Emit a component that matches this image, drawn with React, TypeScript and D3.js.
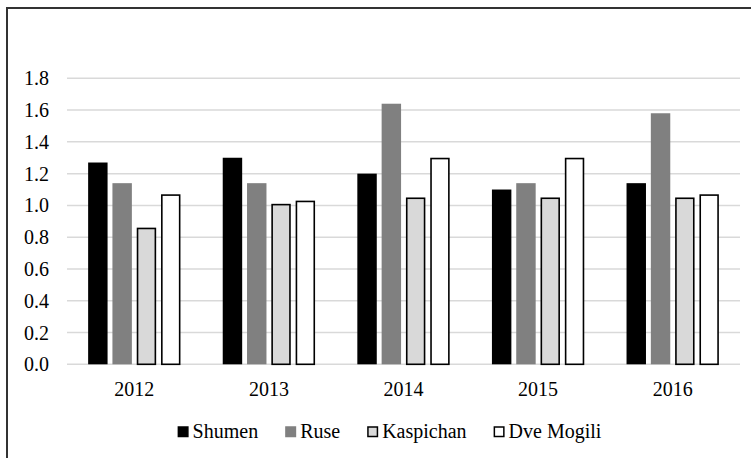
import React, { useEffect, useRef } from 'react';
import * as d3 from 'd3';

const years = ['2012', '2013', '2014', '2015', '2016'];
const seriesNames = ['Shumen', 'Ruse', 'Kaspichan', 'Dve Mogili'];
const shumen = [1.27, 1.3, 1.2, 1.1, 1.14];
const ruse = [1.14, 1.14, 1.64, 1.14, 1.58];
const kaspichan = [0.86, 1.01, 1.05, 1.05, 1.05];
const dveMogili = [1.07, 1.03, 1.3, 1.3, 1.07];
const yTicks = [0, 0.2, 0.4, 0.6, 0.8, 1.0, 1.2, 1.4, 1.6, 1.8];

const fills = ['#000000', '#808080', '#d9d9d9', '#ffffff'];
const strokes = ['none', 'none', '#000000', '#000000'];
const FONT = "'Liberation Serif', 'DejaVu Serif', 'Times New Roman', serif";

const Chart: React.FC = () => {
    const svgRef = useRef<SVGSVGElement>(null);

    useEffect(() => {
        if (!svgRef.current) return;
        const svg = d3.select(svgRef.current);
        svg.selectAll('*').remove();

        const values = [shumen, ruse, kaspichan, dveMogili];
        const left = 67, right = 740, top = 78.3, bottom = 364.3;

        // frame (right and bottom edges are cut off in the original)
        svg.append('rect')
            .attr('x', 7).attr('y', 8)
            .attr('width', 800).attr('height', 500)
            .attr('fill', 'none')
            .attr('stroke', '#333')
            .attr('stroke-width', 2);

        const x = d3.scaleBand().domain(years).range([left, right]).paddingInner(0.314).paddingOuter(0.157);
        const xInner = d3.scaleBand().domain(seriesNames).range([0, x.bandwidth()]).paddingInner(0.2);
        const y = d3.scaleLinear().domain([0, 1.8]).range([bottom, top]);

        svg.append('g')
            .selectAll('line')
            .data(yTicks)
            .join('line')
            .attr('x1', left).attr('x2', right)
            .attr('y1', d => y(d)).attr('y2', d => y(d))
            .attr('stroke', '#d9d9d9')
            .attr('stroke-width', 1.5);

        svg.append('g')
            .selectAll('text')
            .data(yTicks)
            .join('text')
            .attr('x', 49)
            .attr('y', d => y(d))
            .attr('dy', '0.35em')
            .attr('text-anchor', 'end')
            .attr('font-family', FONT)
            .attr('font-size', 20)
            .text(d => d.toFixed(1));

        seriesNames.forEach((name, si) => {
            const sw = strokes[si] === 'none' ? 0 : 1.6;
            svg.append('g')
                .selectAll('rect')
                .data(values[si])
                .join('rect')
                .attr('x', (d, i) => (x(years[i]) || 0) + (xInner(name) || 0) + sw / 2)
                .attr('y', d => y(d) + sw / 2)
                .attr('width', xInner.bandwidth() - sw)
                .attr('height', d => y(0) - y(d) - sw / 2)
                .attr('fill', fills[si])
                .attr('stroke', strokes[si])
                .attr('stroke-width', sw);
        });

        svg.append('g')
            .selectAll('text')
            .data(years)
            .join('text')
            .attr('x', d => (x(d) || 0) + x.bandwidth() / 2)
            .attr('y', 396)
            .attr('text-anchor', 'middle')
            .attr('font-family', FONT)
            .attr('font-size', 20)
            .text(d => d);

        // legend
        const legend = svg.append('g');
        const items = seriesNames.map((name, i) => {
            const g = legend.append('g');
            g.append('rect')
                .attr('x', 0.75).attr('y', -11)
                .attr('width', 9.5).attr('height', 9.5)
                .attr('fill', fills[i])
                .attr('stroke', strokes[i] === 'none' ? fills[i] : '#000')
                .attr('stroke-width', 1.5);
            const t = g.append('text')
                .attr('x', 15)
                .attr('y', 0)
                .attr('font-family', FONT)
                .attr('font-size', 20)
                .text(name);
            const w = 15 + ((t.node() as SVGTextElement).getComputedTextLength());
            return { g, w };
        });
        const gap = 27;
        const total = d3.sum(items, d => d.w) + gap * (items.length - 1);
        let cx = 389.5 - total / 2;
        items.forEach(it => {
            it.g.attr('transform', `translate(${cx},438)`);
            cx += it.w + gap;
        });
    }, []);

    return <svg ref={svgRef} width={751} height={458} style={{ display: 'block', background: '#fff' }} />;
};

const App: React.FC = () => (
    <div style={{ position: 'absolute', left: 0, top: 0 }}>
        <Chart />
    </div>
);

export default App;
